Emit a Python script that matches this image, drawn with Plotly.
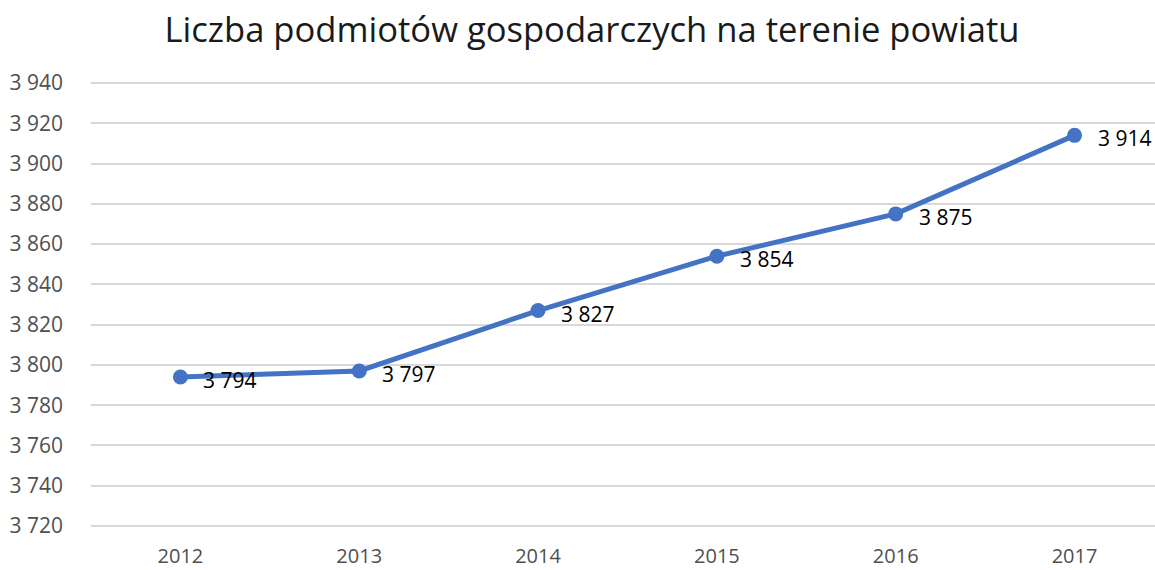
import plotly.graph_objects as go

years = ["2012", "2013", "2014", "2015", "2016", "2017"]
counts = [3794, 3797, 3827, 3854, 3875, 3914]

TITLE = "Liczba podmiotów gospodarczych na terenie powiatu"
LINE_COLOR = "#4472C4"
TICK_COLOR = "#505050"
GRID_COLOR = "#D9D9D9"
FONT = "Open Sans, Noto Sans, sans-serif"


def fmt(v: int) -> str:
    return f"{v:,}".replace(",", " ")


fig = go.Figure()
fig.add_trace(
    go.Scatter(
        x=years,
        y=counts,
        mode="lines+markers",
        line=dict(color=LINE_COLOR, width=5),
        marker=dict(color=LINE_COLOR, size=15),
        hoverinfo="skip",
    )
)

# data labels to the right of each point (x by category index)
for i, val in enumerate(counts):
    fig.add_annotation(
        x=i,
        y=val,
        text=fmt(val),
        showarrow=False,
        xanchor="left",
        yanchor="middle",
        xshift=21,
        yshift=-3,
        font=dict(size=21, color="#000000", family=FONT),
    )

fig.update_layout(
    width=1155,
    height=570,
    margin=dict(l=91, r=0, t=81, b=42),
    paper_bgcolor="white",
    plot_bgcolor="white",
    showlegend=False,
    separators=", ",
    font=dict(family=FONT, color=TICK_COLOR, size=21),
    title=dict(
        text=TITLE,
        x=592 / 1155,
        xanchor="center",
        y=1 - 30 / 570,
        yanchor="middle",
        font=dict(size=34.6, color="#1A1A1A", family=FONT),
    ),
)
fig.update_xaxes(
    type="category",
    range=[-0.5, 5.45],
    showgrid=False,
    zeroline=False,
    showline=False,
    ticks="",
    ticklabelstandoff=14,
    tickfont=dict(size=20),
    automargin=False,
)
# pad the range a little so the 3 720 / 3 940 gridlines are not clipped
fig.update_yaxes(
    range=[3719, 3941],
    dtick=20,
    tick0=3720,
    tickformat=",d",
    showgrid=True,
    gridcolor=GRID_COLOR,
    gridwidth=1.5,
    zeroline=False,
    showline=False,
    ticks="",
    ticklabelstandoff=27,
    automargin=False,
)

fig.write_html(
    "out.html",
    config={"displayModeBar": False},
    post_script="document.body.style.margin='0';",
)
